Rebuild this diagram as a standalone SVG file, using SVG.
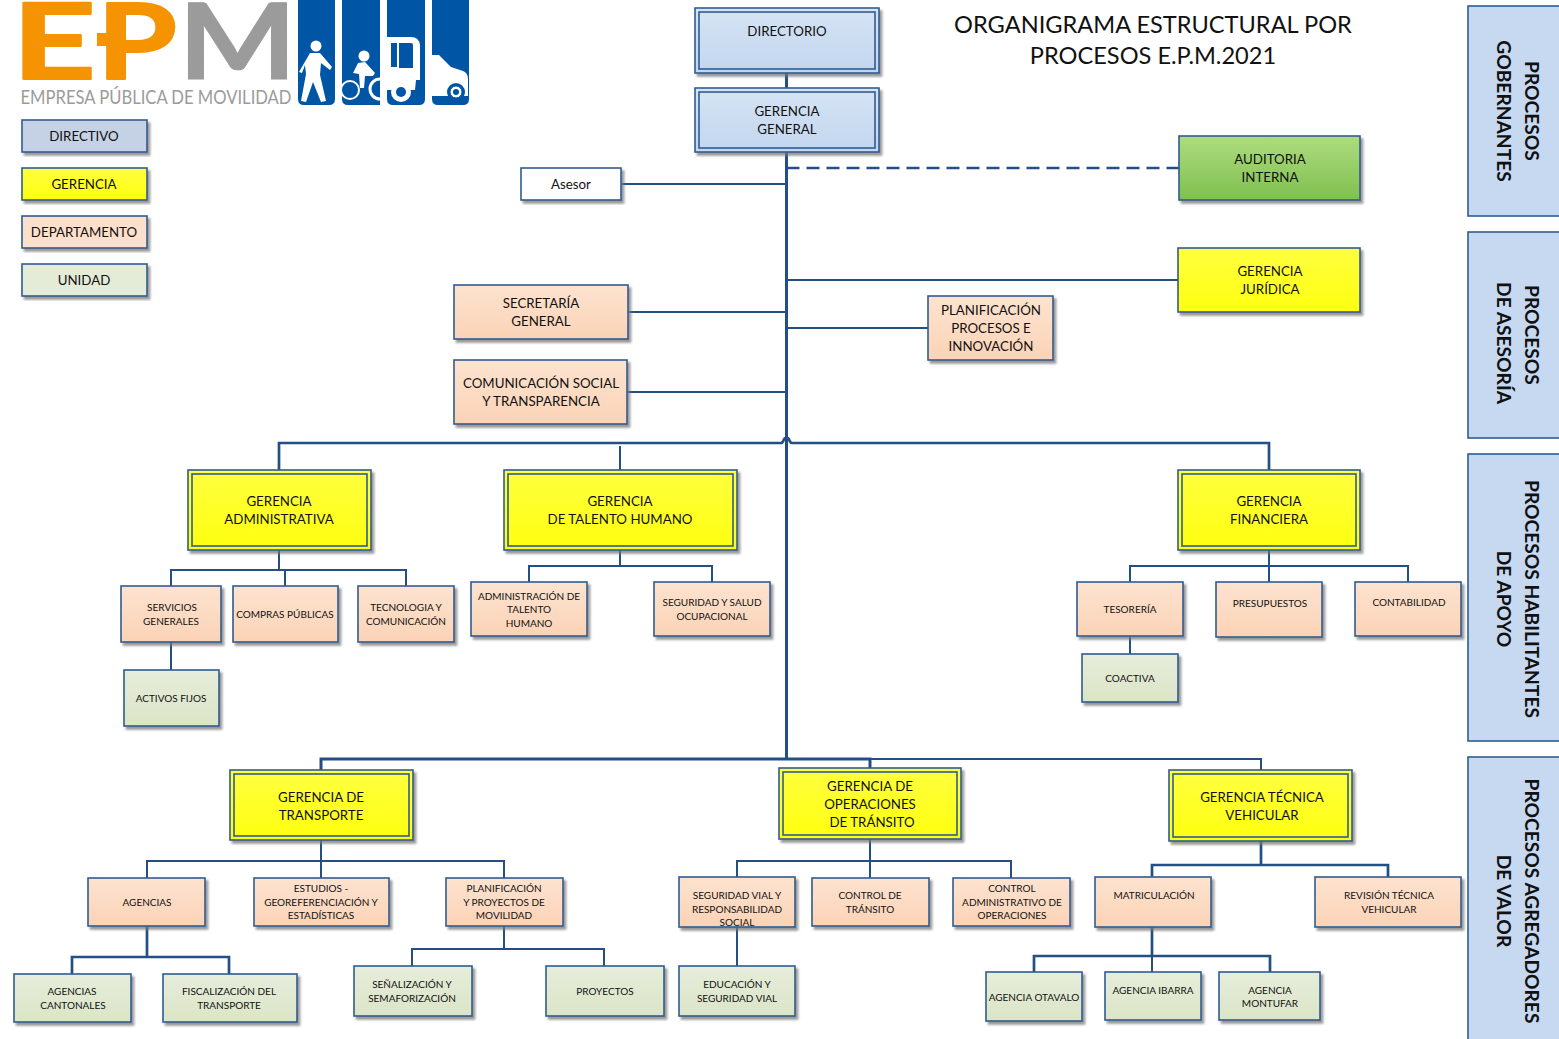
<svg xmlns="http://www.w3.org/2000/svg" width="1559" height="1039" viewBox="0 0 1559 1039">
<style>
text{font-family:Lato,"Noto Sans","Liberation Sans",sans-serif;fill:#111;text-anchor:middle}
.n{stroke:#2f5c92;stroke-width:1.6;filter:url(#sh)}
.i{fill:none;stroke:#2f5c92;stroke-width:1.6}
.b{fill:url(#blue)}.y{fill:url(#yel)}.o{fill:url(#ora)}.u{fill:url(#grn)}.g{fill:url(#aud)}
.m{font-size:13.3px}.s{font-size:10px}
.c path{fill:none;stroke:#234f85;stroke-width:2}
.c .t{stroke-width:2.7}
.side{font-size:19.2px;font-weight:700}
.pn{fill:#c6d9f1;stroke:#2f5c92;stroke-width:1.6}
.ic{fill:#fff}
.lo{font-size:106px;font-weight:700;fill:#f59300;stroke:#f59300;stroke-width:2;stroke-linejoin:round}
</style>
<defs>
<filter id="sh" x="-10%" y="-10%" width="125%" height="125%"><feDropShadow dx="2.5" dy="3" stdDeviation="1" flood-color="#777" flood-opacity=".75"/></filter>
<linearGradient id="blue" x1="0" y1="0" x2="0" y2="1"><stop offset="0" stop-color="#d6e4f4"/><stop offset="1" stop-color="#c2d6ef"/></linearGradient>
<linearGradient id="yel" x1="0" y1="0" x2="0" y2="1"><stop offset="0" stop-color="#ffff40"/><stop offset="1" stop-color="#ffff10"/></linearGradient>
<linearGradient id="ora" x1="0" y1="0" x2="0" y2="1"><stop offset="0" stop-color="#fde3d0"/><stop offset="1" stop-color="#fbd3b6"/></linearGradient>
<linearGradient id="grn" x1="0" y1="0" x2="0" y2="1"><stop offset="0" stop-color="#e6eddb"/><stop offset="1" stop-color="#dbe5c6"/></linearGradient>
<linearGradient id="aud" x1="0" y1="0" x2="0" y2="1"><stop offset="0" stop-color="#aedc7f"/><stop offset="1" stop-color="#7fc04f"/></linearGradient>
</defs>
<rect width="1559" height="1039" fill="#fff"/>

<g id="logo">
<text class="lo" x="54" y="79" textLength="84" lengthAdjust="spacingAndGlyphs">E</text>
<text class="lo" x="137" y="79" textLength="80" lengthAdjust="spacingAndGlyphs">P</text>
<rect x="97" y="33" width="12" height="13" fill="#f59300"/>
<text class="lo" x="237.500" y="79" textLength="118" lengthAdjust="spacingAndGlyphs" style="fill:#9b9b9b;stroke:#9b9b9b;stroke-width:1">M</text>
<text x="156" y="104" style="font-size:19px;fill:#9b9b9b" textLength="271" lengthAdjust="spacingAndGlyphs">EMPRESA PÚBLICA DE MOVILIDAD</text>
<path fill="#0056a4" d="M298 0h37v99q0 6-6 6h-25q-6 0-6-6zM342 0h38v105h-32q-6 0-6-6zM387 0h38v99q0 6-6 6h-26q-6 0-6-6zM432 0h37v99q0 6-6 6h-25q-6 0-6-6z"/>
<circle class="ic" cx="316" cy="46" r="5.5"/>
<path class="ic" d="M310 53h10l12 14-2 3-9-7-1 12 6 26-5 1-8-20-7 20-5-1 5-27-1-9-3 8-3-1z"/>
<circle class="ic" cx="364" cy="56" r="5.5"/>
<path class="ic" d="M358 63l7-1 10 11-2 3-8 0-1 12-4 0-1-14-6-1z"/>
<circle cx="350" cy="90" r="9" fill="none" stroke="#fff" stroke-width="2"/>
<path d="M380 79a10 10 0 1 0 0 20" fill="none" stroke="#fff" stroke-width="3"/>
<path class="ic" d="M387 37h24q8 0 9 8v35h-4l-1 10h-28zM391 43v24h6v-24zM399 43v25h14v-23q0-2-2-2z" fill-rule="evenodd"/>
<circle cx="401" cy="92" r="10" fill="#fff"/><circle cx="401" cy="92" r="5" fill="#0056a4"/>
<path class="ic" d="M432 55l7 0 12 12 12 4q5 2 5 8v17l-36 0-0-8 0 0z"/>
<circle cx="456" cy="92" r="9" fill="#0056a4"/><circle cx="456" cy="92" r="6" fill="#fff" stroke="#0056a4"/><circle cx="456" cy="92" r="3" fill="#0056a4"/>
</g>

<g id="title"><text x="1153" y="33" style="font-size:23.6px">ORGANIGRAMA ESTRUCTURAL POR</text><text x="1153" y="64" style="font-size:23.6px">PROCESOS E.P.M.2021</text></g>

<g class="c" id="connectors">
<path style="stroke-width:3" d="M786.500 73V88M786.500 152V759"/>
<path class="t" style="stroke-dasharray:13 7" d="M786.500 168H1179"/>
<path d="M621 184H786M786 280H1178M628 312H786M627 392H786M786 328H928"/>
<path class="t" d="M279 470V443H781C784 443 783 437.500 786.500 437.500C790 437.500 789 443 792 443H1269V470"/>
<path d="M620 446V470M279 550V570M171 586V570H406V586M285 570V586M171 642V670"/>
<path d="M620 550V566M529 582V566H712V582M1269 550V566M1130 582V566H1408V582M1269 566V582M1130 637V654"/>
<path style="stroke-width:3" d="M321 770V759H870V768"/>
<path d="M870 759H1261V770"/>
<path d="M321 840V861M147 878V861H504V878M321 861V878M504 926V949M412 966V949H604V966"/>
<path class="t" d="M147 926V957M72 974V957H229V974"/>
<path d="M870 839V861M737 877V861H1011V878M870 861V878M737 927V966"/>
<path class="t" d="M1261 841V865M1152 877V865H1388V877M1152 927V956M1034 972V956H1270V972"/>
<path d="M1152 956V972"/>
</g>

<g id="side-panels">
<g id="panel-gobernantes"><rect class="pn" x="1468" y="6" width="100" height="210"/><text class="side" transform="translate(1532 111) rotate(90)" y="7">PROCESOS</text><text class="side" transform="translate(1504 111) rotate(90)" y="7">GOBERNANTES</text></g>
<g id="panel-asesoria"><rect class="pn" x="1468" y="232" width="100" height="206"/><text class="side" transform="translate(1532 335) rotate(90)" y="7">PROCESOS</text><text class="side" transform="translate(1504 343) rotate(90)" y="7">DE ASESORÍA</text></g>
<g id="panel-apoyo"><rect class="pn" x="1468" y="454" width="100" height="287"/><text class="side" transform="translate(1532 599) rotate(90)" y="7">PROCESOS HABILITANTES</text><text class="side" transform="translate(1504 599) rotate(90)" y="7">DE APOYO</text></g>
<g id="panel-valor"><rect class="pn" x="1468" y="757" width="100" height="290"/><text class="side" transform="translate(1532 901) rotate(90)" y="7">PROCESOS AGREGADORES</text><text class="side" transform="translate(1504 901) rotate(90)" y="7">DE VALOR</text></g>
</g>

<g id="leg-directivo"><rect class="n" x="22" y="120" width="125" height="32" fill="#c5d2e5"/><text class="m" x="84" y="141">DIRECTIVO</text></g>
<g id="leg-gerencia"><rect class="n y" x="22" y="168" width="125" height="32"/><text class="m" x="84" y="189">GERENCIA</text></g>
<g id="leg-departamento"><rect class="n" x="22" y="216" width="125" height="32" fill="#fde0cc"/><text class="m" x="84" y="237">DEPARTAMENTO</text></g>
<g id="leg-unidad"><rect class="n" x="22" y="264" width="125" height="32" fill="#e4ebd7"/><text class="m" x="84" y="285">UNIDAD</text></g>

<g id="directorio"><rect class="n b" x="695" y="8" width="184" height="65"/><rect class="i" x="699" y="12" width="176" height="57"/><text class="m" x="787" y="36">DIRECTORIO</text></g>
<g id="gerencia-general"><rect class="n b" x="695" y="88" width="184" height="64"/><rect class="i" x="699" y="92" width="176" height="56"/><text class="m" x="787" y="116">GERENCIA</text><text class="m" x="787" y="134">GENERAL</text></g>
<g id="asesor"><rect class="n" x="521" y="168" width="100" height="32" fill="#fff"/><text class="m" x="571" y="189">Asesor</text></g>
<g id="auditoria"><rect class="n g" x="1179" y="136" width="181" height="64"/><text class="m" x="1270" y="164">AUDITORIA</text><text class="m" x="1270" y="182">INTERNA</text></g>
<g id="juridica"><rect class="n y" x="1178" y="248" width="182" height="64"/><text class="m" x="1270" y="276">GERENCIA</text><text class="m" x="1270" y="294">JURÍDICA</text></g>
<g id="secretaria"><rect class="n o" x="454" y="285" width="174" height="54"/><text class="m" x="541" y="308">SECRETARÍA</text><text class="m" x="541" y="326">GENERAL</text></g>
<g id="comunicacion"><rect class="n o" x="454" y="360" width="173" height="64"/><text class="m" x="541" y="388">COMUNICACIÓN SOCIAL</text><text class="m" x="541" y="406">Y TRANSPARENCIA</text></g>
<g id="planificacion-procesos"><rect class="n o" x="928" y="296" width="125" height="64"/><text class="m" x="991" y="315">PLANIFICACIÓN</text><text class="m" x="991" y="333">PROCESOS E</text><text class="m" x="991" y="351">INNOVACIÓN</text></g>

<g id="g-administrativa"><rect class="n y" x="188" y="470" width="183" height="80"/><rect class="i" x="192" y="474" width="175" height="72"/><text class="m" x="279" y="506">GERENCIA</text><text class="m" x="279" y="524">ADMINISTRATIVA</text></g>
<g id="g-talento"><rect class="n y" x="504" y="470" width="233" height="80"/><rect class="i" x="508" y="474" width="225" height="72"/><text class="m" x="620" y="506">GERENCIA</text><text class="m" x="620" y="524">DE TALENTO HUMANO</text></g>
<g id="g-financiera"><rect class="n y" x="1178" y="470" width="182" height="80"/><rect class="i" x="1182" y="474" width="174" height="72"/><text class="m" x="1269" y="506">GERENCIA</text><text class="m" x="1269" y="524">FINANCIERA</text></g>

<g id="servicios"><rect class="n o" x="121" y="586" width="100" height="56"/><text class="s" x="172" y="611">SERVICIOS</text><text class="s" x="171" y="625">GENERALES</text></g>
<g id="compras"><rect class="n o" x="233" y="586" width="105" height="56"/><text class="s" x="285" y="618">COMPRAS PÚBLICAS</text></g>
<g id="tecnologia"><rect class="n o" x="358" y="586" width="96" height="56"/><text class="s" x="406" y="611">TECNOLOGIA Y</text><text class="s" x="406" y="625">COMUNICACIÓN</text></g>
<g id="activos"><rect class="n u" x="124" y="670" width="95" height="56"/><text class="s" x="171" y="702">ACTIVOS FIJOS</text></g>
<g id="admin-talento"><rect class="n o" x="471" y="582" width="116" height="54"/><text class="s" x="529" y="600">ADMINISTRACIÓN DE</text><text class="s" x="529" y="613">TALENTO</text><text class="s" x="529" y="627">HUMANO</text></g>
<g id="seguridad-salud"><rect class="n o" x="654" y="582" width="116" height="54"/><text class="s" x="712" y="606">SEGURIDAD Y SALUD</text><text class="s" x="712" y="620">OCUPACIONAL</text></g>
<g id="tesoreria"><rect class="n o" x="1077" y="582" width="106" height="54"/><text class="s" x="1130" y="613">TESORERÍA</text></g>
<g id="presupuestos"><rect class="n o" x="1216" y="582" width="106" height="55"/><text class="s" x="1270" y="607">PRESUPUESTOS</text></g>
<g id="contabilidad"><rect class="n o" x="1355" y="582" width="106" height="54"/><text class="s" x="1409" y="606">CONTABILIDAD</text></g>
<g id="coactiva"><rect class="n u" x="1082" y="654" width="96" height="48"/><text class="s" x="1130" y="682">COACTIVA</text></g>

<g id="g-transporte"><rect class="n y" x="230" y="770" width="183" height="70"/><rect class="i" x="234" y="774" width="175" height="62"/><text class="m" x="321" y="802">GERENCIA DE</text><text class="m" x="321" y="820">TRANSPORTE</text></g>
<g id="g-operaciones"><rect class="n y" x="779" y="768" width="182" height="71"/><rect class="i" x="783" y="772" width="174" height="63"/><text class="m" x="870" y="791">GERENCIA DE</text><text class="m" x="870" y="809">OPERACIONES</text><text class="m" x="872" y="827">DE TRÁNSITO</text></g>
<g id="g-tecnica"><rect class="n y" x="1169" y="770" width="183" height="71"/><rect class="i" x="1173" y="774" width="175" height="63"/><text class="m" x="1262" y="802">GERENCIA TÉCNICA</text><text class="m" x="1262" y="820">VEHICULAR</text></g>

<g id="agencias"><rect class="n o" x="88" y="878" width="117" height="48"/><text class="s" x="147" y="906">AGENCIAS</text></g>
<g id="estudios"><rect class="n o" x="254" y="878" width="135" height="48"/><text class="s" x="321" y="892">ESTUDIOS -</text><text class="s" x="321" y="906">GEOREFERENCIACIÓN Y</text><text class="s" x="321" y="919">ESTADÍSTICAS</text></g>
<g id="planificacion-movilidad"><rect class="n o" x="446" y="878" width="117" height="48"/><text class="s" x="504" y="892">PLANIFICACIÓN</text><text class="s" x="504" y="906">Y PROYECTOS DE</text><text class="s" x="504" y="919">MOVILIDAD</text></g>
<g id="agencias-cantonales"><rect class="n u" x="14" y="974" width="117" height="48"/><text class="s" x="72" y="995">AGENCIAS</text><text class="s" x="73" y="1009">CANTONALES</text></g>
<g id="fiscalizacion"><rect class="n u" x="163" y="974" width="134" height="48"/><text class="s" x="229" y="995">FISCALIZACIÓN DEL</text><text class="s" x="229" y="1009">TRANSPORTE</text></g>
<g id="senalizacion"><rect class="n u" x="354" y="966" width="118" height="50"/><text class="s" x="412" y="988">SEÑALIZACIÓN Y</text><text class="s" x="412" y="1002">SEMAFORIZACIÓN</text></g>
<g id="proyectos"><rect class="n u" x="546" y="966" width="118" height="50"/><text class="s" x="605" y="995">PROYECTOS</text></g>
<g id="seguridad-vial"><rect class="n o" x="679" y="877" width="116" height="50"/><text class="s" x="737" y="899">SEGURIDAD VIAL Y</text><text class="s" x="737" y="913">RESPONSABILIDAD</text><text class="s" x="737" y="926">SOCIAL</text></g>
<g id="control-transito"><rect class="n o" x="812" y="878" width="117" height="48"/><text class="s" x="870" y="899">CONTROL DE</text><text class="s" x="870" y="913">TRÁNSITO</text></g>
<g id="control-admin"><rect class="n o" x="953" y="878" width="117" height="48"/><text class="s" x="1012" y="892">CONTROL</text><text class="s" x="1012" y="906">ADMINISTRATIVO DE</text><text class="s" x="1012" y="919">OPERACIONES</text></g>
<g id="matriculacion"><rect class="n o" x="1095" y="877" width="116" height="50"/><text class="s" x="1154" y="899">MATRICULACIÓN</text></g>
<g id="revision"><rect class="n o" x="1315" y="877" width="146" height="50"/><text class="s" x="1389" y="899">REVISIÓN TÉCNICA</text><text class="s" x="1389" y="913">VEHICULAR</text></g>
<g id="educacion"><rect class="n u" x="679" y="966" width="116" height="50"/><text class="s" x="737" y="988">EDUCACIÓN Y</text><text class="s" x="737" y="1002">SEGURIDAD VIAL</text></g>
<g id="otavalo"><rect class="n u" x="986" y="972" width="96" height="49"/><text class="s" x="1034" y="1001">AGENCIA OTAVALO</text></g>
<g id="ibarra"><rect class="n u" x="1105" y="972" width="96" height="48"/><text class="s" x="1153" y="994">AGENCIA IBARRA</text></g>
<g id="montufar"><rect class="n u" x="1219" y="972" width="101" height="48"/><text class="s" x="1270" y="994">AGENCIA</text><text class="s" x="1270" y="1007">MONTUFAR</text></g>
</svg>
